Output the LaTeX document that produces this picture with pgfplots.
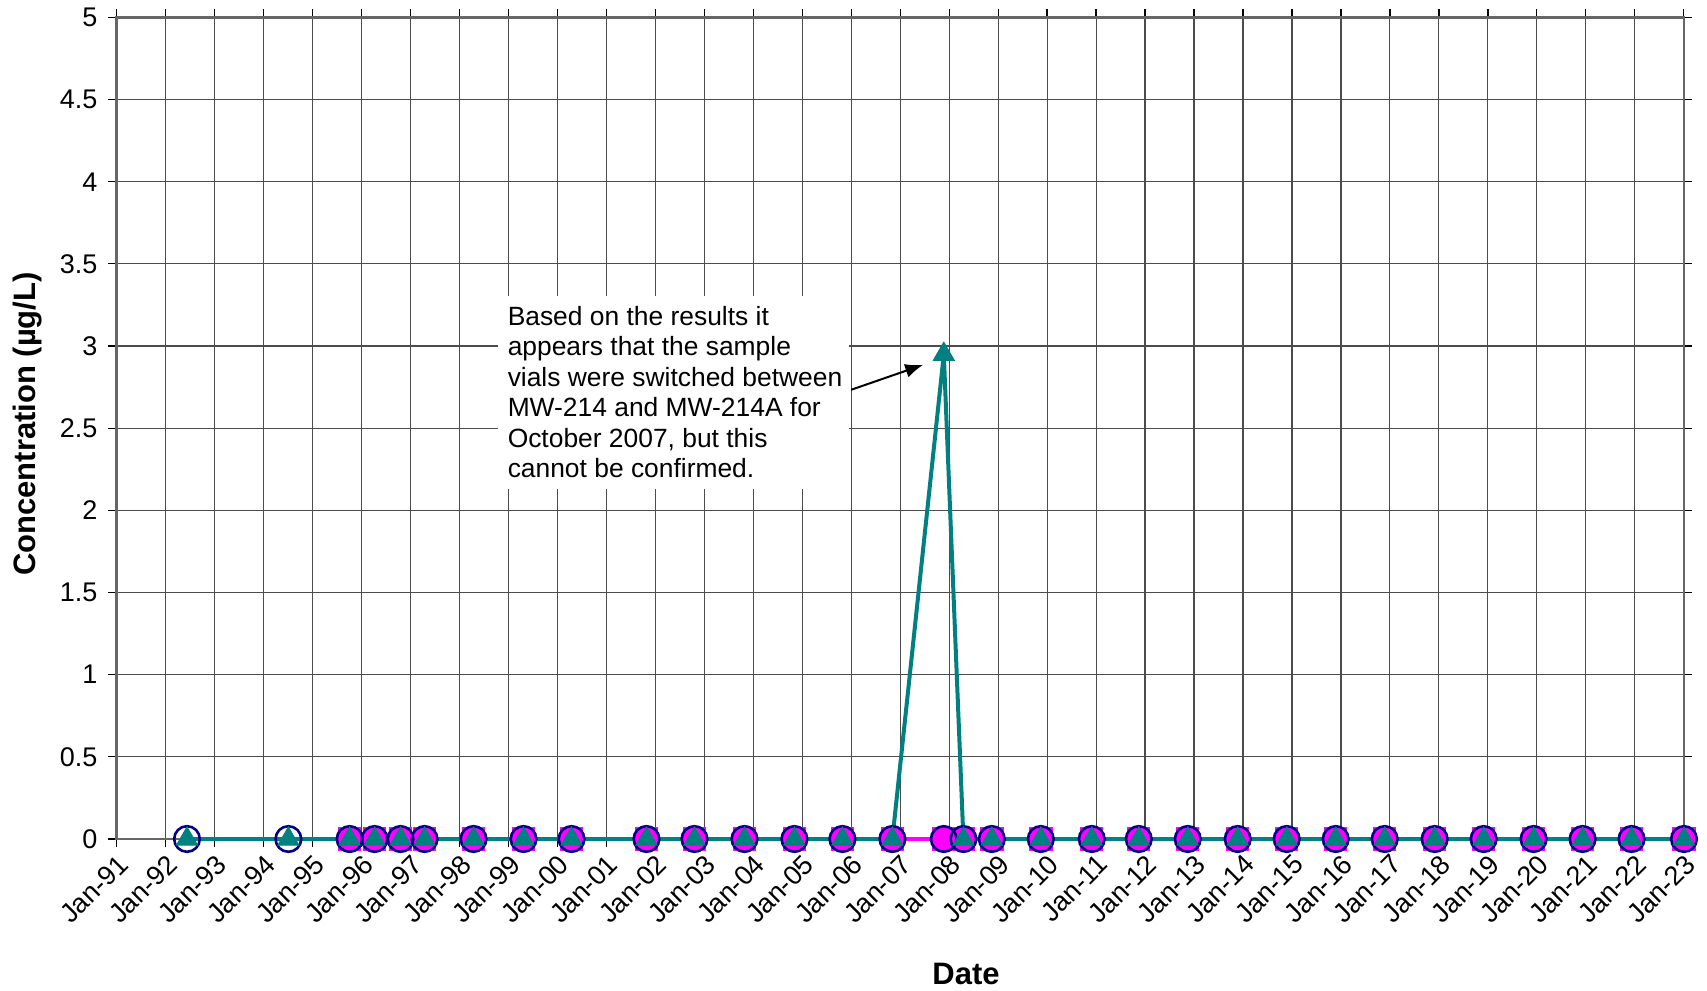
\documentclass[border=0pt]{standalone}
\usepackage{pgfplots}
\pgfplotsset{compat=1.18}
\usepackage{fontspec}
\setmainfont{Liberation Sans}
\usetikzlibrary{arrows.meta}
\definecolor{tealc}{RGB}{0,128,128}
\definecolor{navyc}{RGB}{0,0,128}
\definecolor{magc}{RGB}{255,0,255}

\pgfplotstableread{
x y
1992.44 0
1994.51 0
1995.76 0
1996.27 0
1996.80 0
1997.29 0
1998.29 0
1999.31 0
2000.29 0
2001.82 0
2002.80 0
2003.82 0
2004.84 0
2005.82 0
2006.84 0
2007.89 0
2008.29 0
2008.87 0
2009.87 0
2010.91 0
2011.87 0
2012.87 0
2013.89 0
2014.89 0
2015.89 0
2016.89 0
2017.91 0
2018.91 0
2019.93 0
2020.93 0
2021.93 0
2023.00 0
}\navytab

\pgfplotstableread{
x y
1995.76 0
1996.27 0
1996.80 0
1997.29 0
1998.29 0
1999.31 0
2000.29 0
2001.82 0
2002.80 0
2003.82 0
2004.84 0
2005.82 0
2006.84 0
2007.89 0
2008.29 0
2008.87 0
2009.87 0
2010.91 0
2011.87 0
2012.87 0
2013.89 0
2014.89 0
2015.89 0
2016.89 0
2017.91 0
2018.91 0
2019.93 0
2020.93 0
2021.93 0
2023.00 0
}\magtab

\pgfplotstableread{
x y
1992.44 0
1994.51 0
1995.76 0
1996.27 0
1996.80 0
1997.29 0
1998.29 0
1999.31 0
2000.29 0
2001.82 0
2002.80 0
2003.82 0
2004.84 0
2005.82 0
2006.84 0
2007.89 2.95
2008.29 0
2008.87 0
2009.87 0
2010.91 0
2011.87 0
2012.87 0
2013.89 0
2014.89 0
2015.89 0
2016.89 0
2017.91 0
2018.91 0
2019.93 0
2020.93 0
2021.93 0
2023.00 0
}\tealtab

\begin{document}
\begin{tikzpicture}
\begin{axis}[
  width=783.75pt, height=410.8pt,
  scale only axis,
  xmin=1991, xmax=2023, ymin=0, ymax=5,
  xtick={1991,...,2023},
  xticklabels={Jan-91,Jan-92,Jan-93,Jan-94,Jan-95,Jan-96,Jan-97,Jan-98,Jan-99,Jan-00,Jan-01,Jan-02,Jan-03,Jan-04,Jan-05,Jan-06,Jan-07,Jan-08,Jan-09,Jan-10,Jan-11,Jan-12,Jan-13,Jan-14,Jan-15,Jan-16,Jan-17,Jan-18,Jan-19,Jan-20,Jan-21,Jan-22,Jan-23},
  ytick={0,0.5,...,5},
  yticklabels={0,0.5,1,1.5,2,2.5,3,3.5,4,4.5,5},
  tick align=outside, major tick length=4pt,
  tick style={black, line width=0.6pt},
  xmajorgrids, ymajorgrids,
  grid style={black!70, line width=0.55pt},
  axis line style={gray!80!black, line width=1.2pt},
  ticklabel style={font=\fontsize{13.5}{15}\selectfont},
  xticklabel style={rotate=45, anchor=north east, inner sep=2pt},
  yticklabel style={xshift=-2pt},
  /pgf/number format/assume math mode=true,
  xlabel={Date},
  ylabel={Concentration (µg/L)},
  label style={font=\fontsize{15.5}{17}\selectfont\bfseries},
  xlabel style={at={(axis description cs:0.542,-0.164)}, anchor=center},
  ylabel style={at={(axis description cs:-0.057,0.505)}, anchor=center, rotate=0},
  clip=false,
]
\addplot[navyc, line width=2pt, no marks] table[x=x,y=y] {\navytab};
\addplot[magc, line width=2pt, mark=square*, mark size=5.6pt, mark options={fill=magc, draw=magc, line width=0.5pt}] table[x=x,y=y] {\magtab};
\addplot[only marks, mark=o, mark size=6.4pt, mark options={draw=navyc, line width=1.3pt}] table[x=x,y=y] {\navytab};
\addplot[tealc, line width=2pt, mark=triangle*, mark size=6pt, mark options={fill=tealc, draw=tealc, line width=0.5pt}] table[x=x,y=y] {\tealtab};

\fill[white] (axis cs:1998.79,2.13) rectangle (axis cs:2005.95,3.304);
\node[anchor=north west, align=left, inner sep=0pt, font=\fontsize{13.2}{15.25}\selectfont]
  at (axis cs:1998.98,3.245) {Based on the results it\\appears that the sample\\vials were switched between\\MW-214 and MW-214A for\\October 2007, but this\\cannot be confirmed.};
\draw[black, line width=1pt, -{Latex[length=9pt,width=7pt]}] (axis cs:2006.0,2.734) -- (axis cs:2007.47,2.886);

\coordinate (bbl) at (rel axis cs:-0.0743,-0.1838);
\coordinate (btr) at (rel axis cs:1.0147,1.0212);
\end{axis}
\pgfresetboundingbox
\path[use as bounding box] (bbl) rectangle (btr);
\end{tikzpicture}
\end{document}
